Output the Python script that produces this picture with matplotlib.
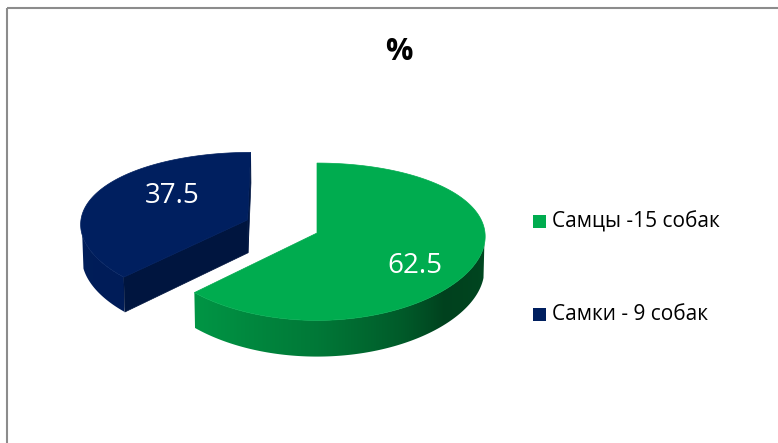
import numpy as np
import matplotlib
matplotlib.use("Agg")
from matplotlib import pyplot as plt
from matplotlib.patches import Polygon, Rectangle

# data
labels = ["Самцы -15 собак", "Самки - 9 собак"]
values = [62.5, 37.5]
title = "%"

# style
top_colors = [(0, 172, 79), (0, 31, 95)]
shade_strength = [1.0, 0.55]
explode = [0.0, 0.45]
label_pos = [(0.70, -35), (0.57, 145)]  # (radius, angle) of value labels

# pie geometry (pixels)
cx, cy = 317, 233
S = 168
el = np.arcsin(0.4625)
D = 8.0      # perspective distance, vertical
DX = 20.0    # perspective distance, horizontal
depth = 0.227

plt.rcParams['font.family'] = ['Open Sans', 'DejaVu Sans']


def proj(u, v, h):
    up = v * np.sin(el) + h * np.cos(el)
    dep = v * np.cos(el) - h * np.sin(el)
    return cx + S * u * DX / (DX + dep), cy - S * up * D / (D + dep)


# light factor of a side face vs. its outward normal angle (deg)
sh_t = [-225, -180, -135, -120, -90, -60, -43, -20, 0, 45, 90, 135]
sh_f = [0.9, 0.9, 0.87, 0.82, 0.70, 0.52, 0.38, 0.40, 0.45, 0.6, 0.8, 0.9]


def shade(rgb, t, k):
    t = (np.asarray(t) + 225) % 360 - 225
    f = np.interp(t, sh_t, sh_f)
    f = 1 - k * (1 - f)
    return np.clip(np.multiply.outer(f, np.array(rgb) / 255), 0, 1)


cam = np.array([0, -D * np.cos(el), D * np.sin(el)])

fig = plt.figure(figsize=(7.78, 4.43), dpi=100)
ax = fig.add_axes([0, 0, 1, 1])
ax.set_xlim(0, 778)
ax.set_ylim(443, 0)
ax.axis("off")

# slices: start at 12 o'clock, clockwise
total = sum(values)
slices = []
start = 90.0
for i, val in enumerate(values):
    t1 = start
    t0 = start - 360 * val / total
    start = t0
    mid = np.radians((t0 + t1) / 2)
    ou, ov = explode[i] * np.cos(mid), explode[i] * np.sin(mid)
    slices.append((i, t0, t1, ou, ov))

# far slices first
slices.sort(key=lambda s: -s[4])

for i, t0, t1, ou, ov in slices:
    col = top_colors[i]
    k = shade_strength[i]
    base = tuple(c / 255 for c in col)
    ts = np.radians(np.linspace(t0, t1, 400))
    # visible part of the outer wall
    pu, pv = ou + np.cos(ts), ov + np.sin(ts)
    vis = np.cos(ts) * (cam[0] - pu) + np.sin(ts) * (cam[1] - pv) > 0
    tv = ts[vis]
    if len(tv) > 1:
        top = [proj(ou + np.cos(a), ov + np.sin(a), 0) for a in tv]
        bot = [proj(ou + np.cos(a), ov + np.sin(a), -depth) for a in tv]
        poly = Polygon(top + bot[::-1], closed=True, facecolor="none", edgecolor="none")
        ax.add_patch(poly)
        xs = np.array([p[0] for p in top])
        order = np.argsort(xs)
        x0, x1 = xs.min(), xs.max()
        ys = [p[1] for p in top] + [p[1] for p in bot]
        y0, y1 = min(ys), max(ys)
        gx = np.linspace(x0, x1, 600)
        gt = np.interp(gx, xs[order], np.degrees(tv)[order])
        img = shade(col, gt, k)[None, :, :]
        im = ax.imshow(img, extent=(x0, x1, y1, y0), aspect="auto",
                       interpolation="bilinear", zorder=1)
        im.set_clip_path(poly)
        ax.add_patch(Polygon(top + bot[::-1], closed=True, facecolor="none",
                             edgecolor=tuple(shade(col, np.degrees(tv[0]), k)),
                             lw=0.0, zorder=1))
    # cut faces
    for t, nrm in [(t0, t0 - 90), (t1, t1 + 90)]:
        tr = np.radians(t)
        n = np.array([np.cos(np.radians(nrm)), np.sin(np.radians(nrm)), 0])
        p = np.array([ou + 0.5 * np.cos(tr), ov + 0.5 * np.sin(tr), -depth / 2])
        if n @ (cam - p) > 1e-6:
            pts = [proj(ou, ov, 0), proj(ou + np.cos(tr), ov + np.sin(tr), 0),
                   proj(ou + np.cos(tr), ov + np.sin(tr), -depth), proj(ou, ov, -depth)]
            c = tuple(shade(col, nrm, k))
            ax.add_patch(Polygon(pts, closed=True, facecolor=c, edgecolor=c,
                                 lw=0.5, zorder=2))
    # top face
    pts = [proj(ou, ov, 0)] + [proj(ou + np.cos(a), ov + np.sin(a), 0) for a in ts]
    ax.add_patch(Polygon(pts, closed=True, facecolor=base, edgecolor=base,
                         lw=0.5, zorder=3))
    # value label
    r, ang = label_pos[i]
    lx, ly = proj(ou + r * np.cos(np.radians(ang)), ov + r * np.sin(np.radians(ang)), 0)
    ax.text(lx, ly, f"{values[i]:g}", color="white", fontsize=20,
            ha="center", va="center", zorder=4)

ax.text(399, 52, title, fontsize=22, fontweight="bold", ha="center", va="center")

# legend
leg_y = [222, 315]
for i, lab in enumerate(labels):
    c = tuple(v / 255 for v in top_colors[i])
    ax.add_patch(Rectangle((533, leg_y[i] - 7), 13, 13, facecolor=c, edgecolor="none"))
    ax.text(552, leg_y[i], lab, fontsize=15, ha="left", va="center")

# chart border
ax.plot([7, 778], [8, 8], color="#8c8c8c", lw=1.5, solid_capstyle="butt")
ax.plot([7, 7], [8, 443], color="#8c8c8c", lw=1.5, solid_capstyle="butt")

ax.set_xlim(0, 778)
ax.set_ylim(443, 0)
fig.savefig("out.png", dpi=100)
